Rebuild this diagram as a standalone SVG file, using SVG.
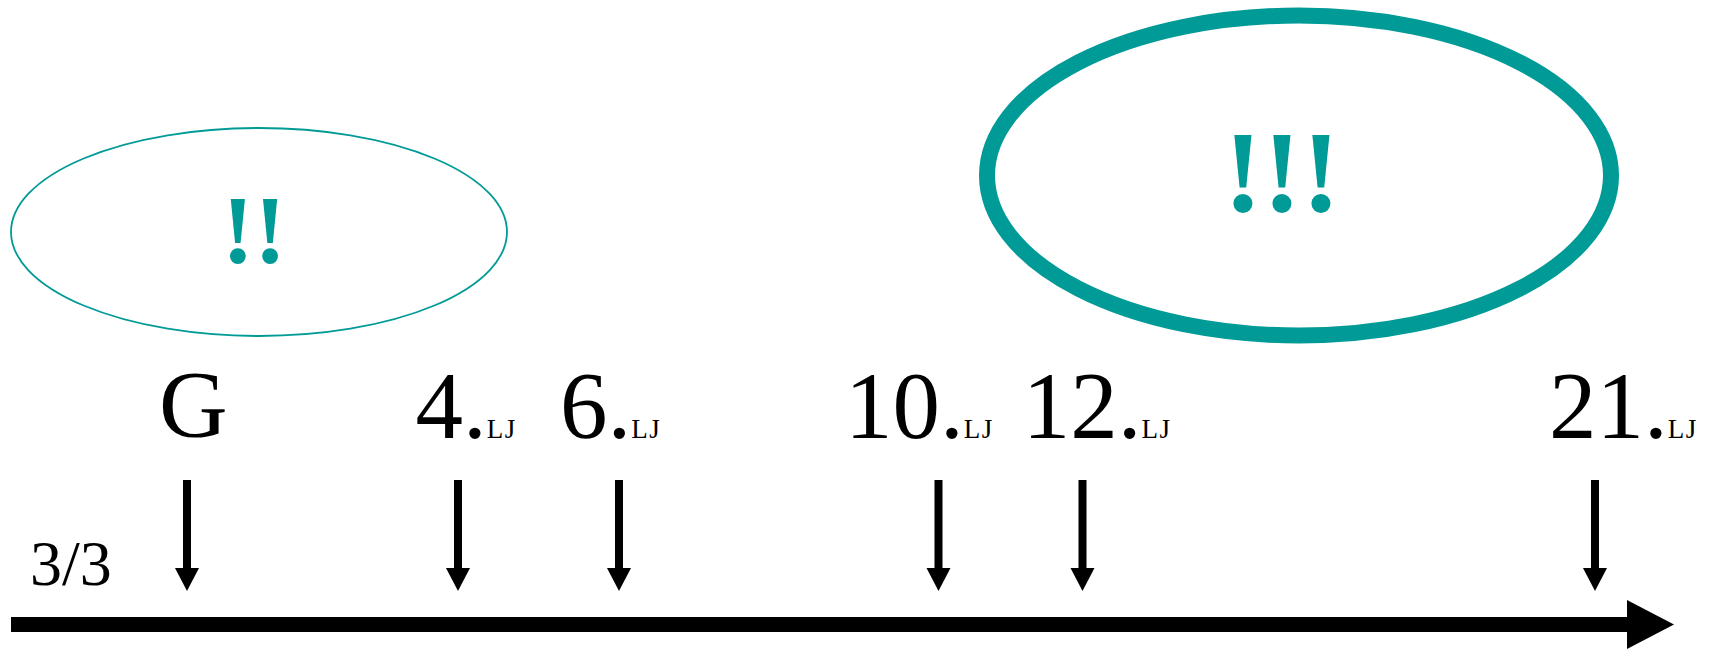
<svg xmlns="http://www.w3.org/2000/svg" width="1723" height="649" viewBox="0 0 1723 649">
  <style>
    .teal-e { fill: none; stroke: #009a97; }
    .bang { font-family: "Liberation Serif", "Times New Roman", serif; font-weight: bold; fill: #009a97; text-anchor: middle; }
    .lbl { font-family: "Liberation Serif", "Times New Roman", serif; fill: #000; }
    .big { font-size: 95px; }
    .sub { font-size: 27px; letter-spacing: 1.5px; }
    .shaft { stroke: #000; stroke-width: 8; }
    .head { fill: #000; }
  </style>
  <rect width="1723" height="649" fill="#fff"/>

  <g id="node-emph2">
    <ellipse class="teal-e" cx="259" cy="232" rx="248" ry="104" stroke-width="1.8"/>
    <text class="bang" x="254" y="263" font-size="97">!!</text>
  </g>

  <g id="node-emph3">
    <ellipse class="teal-e" cx="1299" cy="175.5" rx="312" ry="160" stroke-width="16"/>
    <text class="bang" x="1282" y="211" font-size="117">!!!</text>
  </g>

  <g id="node-G"><text class="lbl big" x="159" y="437">G</text></g>
  <g id="node-4"><text class="lbl big" x="415.5" y="438">4.<tspan class="sub">LJ</tspan></text></g>
  <g id="node-6"><text class="lbl big" x="560" y="438">6.<tspan class="sub">LJ</tspan></text></g>
  <g id="node-10"><text class="lbl big" x="845" y="438">10.<tspan class="sub">LJ</tspan></text></g>
  <g id="node-12"><text class="lbl big" x="1022.7" y="438">12.<tspan class="sub">LJ</tspan></text></g>
  <g id="node-21"><text class="lbl big" x="1549" y="438">21.<tspan class="sub">LJ</tspan></text></g>
  <g id="node-33"><text class="lbl" x="30" y="585" font-size="64">3/3</text></g>

  <g id="connectors">
    <line class="shaft" x1="187" y1="480" x2="187" y2="570"/>
    <polygon class="head" points="175,568 199,568 187,591"/>
    <line class="shaft" x1="458" y1="480" x2="458" y2="570"/>
    <polygon class="head" points="446,568 470,568 458,591"/>
    <line class="shaft" x1="619" y1="480" x2="619" y2="570"/>
    <polygon class="head" points="607,568 631,568 619,591"/>
    <line class="shaft" x1="938.5" y1="480" x2="938.5" y2="570"/>
    <polygon class="head" points="926.5,568 950.5,568 938.5,591"/>
    <line class="shaft" x1="1082.5" y1="480" x2="1082.5" y2="570"/>
    <polygon class="head" points="1070.5,568 1094.5,568 1082.5,591"/>
    <line class="shaft" x1="1595" y1="480" x2="1595" y2="570"/>
    <polygon class="head" points="1583,568 1607,568 1595,591"/>
    <rect x="11" y="617" width="1618" height="15" fill="#000"/>
    <polygon class="head" points="1627,600 1674,624.5 1627,649"/>
  </g>
</svg>
